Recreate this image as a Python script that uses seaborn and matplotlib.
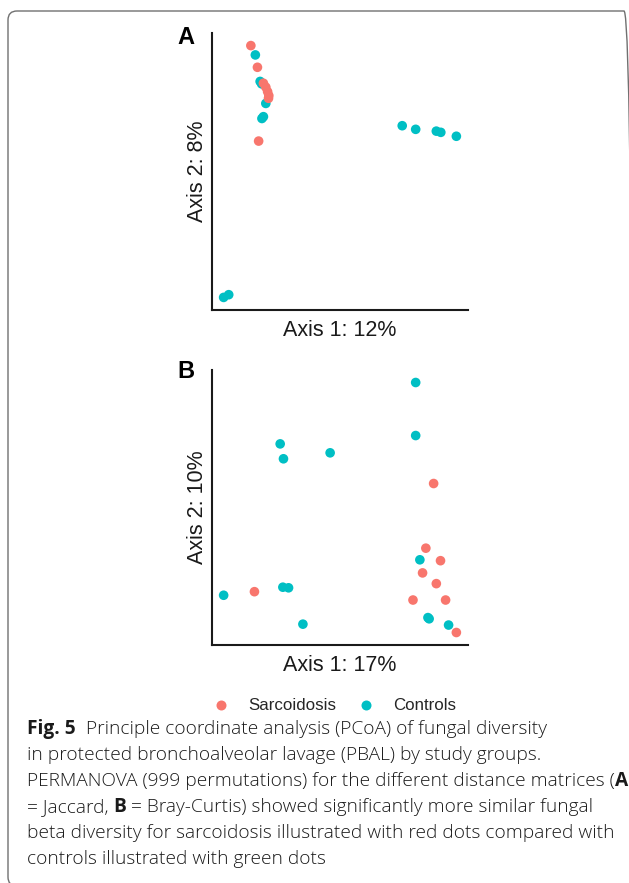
import matplotlib
matplotlib.use("Agg")
import matplotlib.pyplot as plt
from matplotlib.patches import FancyBboxPatch
from matplotlib.transforms import IdentityTransform
from matplotlib.lines import Line2D
import seaborn as sns
import pandas as pd

# ---------------- data ----------------
groups = ["Sarcoidosis", "Controls"]
colors = ["#F8766D", "#00BFC4"]

# Panel A (Jaccard)
a_sarc_x = [-0.298, -0.276, -0.256, -0.248, -0.242, -0.238, -0.239, -0.272]
a_sarc_y = [0.414, 0.342, 0.289, 0.276, 0.261, 0.248, 0.239, 0.097]
a_ctrl_x = [-0.283, -0.267, -0.262, -0.248, -0.256, -0.261, 0.208, 0.253, 0.322, 0.337, 0.389, -0.389, -0.372]
a_ctrl_y = [0.383, 0.295, 0.287, 0.222, 0.178, 0.172, 0.148, 0.136, 0.130, 0.126, 0.113, -0.422, -0.413]

# Panel B (Bray-Curtis)
b_sarc_x = [0.313, 0.287, 0.336, 0.276, 0.322, -0.286, 0.244, 0.353, 0.389]
b_sarc_y = [0.089, -0.128, -0.170, -0.211, -0.247, -0.274, -0.302, -0.302, -0.411]
b_ctrl_x = [0.253, 0.253, -0.200, -0.189, -0.033, 0.267, -0.191, -0.172, -0.389, -0.124, 0.294, 0.298, 0.363]
b_ctrl_y = [0.428, 0.250, 0.222, 0.172, 0.192, -0.167, -0.259, -0.261, -0.286, -0.383, -0.361, -0.365, -0.386]

panel_labels = ["A", "B"]
x_titles = ["Axis 1: 12%", "Axis 1: 17%"]
y_titles = ["Axis 2: 8%", "Axis 2: 10%"]

caption_lines = [
    [("Fig. 5", True), ("  Principle coordinate analysis (PCoA) of fungal diversity", False)],
    [("in protected bronchoalveolar lavage (PBAL) by study groups.", False)],
    [("PERMANOVA (999 permutations) for the different distance matrices (", False), ("A", True)],
    [("= Jaccard, ", False), ("B", True), (" = Bray-Curtis) showed significantly more similar fungal", False)],
    [("beta diversity for sarcoidosis illustrated with red dots compared with", False)],
    [("controls illustrated with green dots", False)],
]

# ---------------- figure ----------------
sns.set_style("white")
plt.rcParams["font.family"] = ["Liberation Sans", "DejaVu Sans"]

W, H = 629, 883
fig = plt.figure(figsize=(W / 100, H / 100), dpi=100)
fig.patch.set_facecolor("white")


def frac_rect(left, top, right, bottom):
    return [left / W, 1 - bottom / H, (right - left) / W, (bottom - top) / H]


def make_df(sx, sy, cx, cy):
    d1 = pd.DataFrame({"x": cx, "y": cy, "group": "Controls"})
    d2 = pd.DataFrame({"x": sx, "y": sy, "group": "Sarcoidosis"})
    return pd.concat([d1, d2], ignore_index=True)


panels = [
    (make_df(a_sarc_x, a_sarc_y, a_ctrl_x, a_ctrl_y), frac_rect(212, 33, 468, 310)),
    (make_df(b_sarc_x, b_sarc_y, b_ctrl_x, b_ctrl_y), frac_rect(212, 370, 468, 645)),
]
label_centers = [(186, 38), (186, 371)]

for i, (df, rect) in enumerate(panels):
    ax = fig.add_axes(rect)
    sns.scatterplot(data=df, x="x", y="y", hue="group", hue_order=groups,
                    palette=colors, s=48, linewidth=0, alpha=1,
                    legend=False, ax=ax)
    xr = df["x"].max() - df["x"].min()
    yr = df["y"].max() - df["y"].min()
    ax.set_xlim(df["x"].min() - 0.05 * xr, df["x"].max() + 0.05 * xr)
    ax.set_ylim(df["y"].min() - 0.05 * yr, df["y"].max() + 0.05 * yr)
    ax.set_xticks([])
    ax.set_yticks([])
    sns.despine(ax=ax)
    for sp in ["left", "bottom"]:
        ax.spines[sp].set_color("#1a1a1a")
        ax.spines[sp].set_linewidth(1.5)
    ax.set_xlabel(x_titles[i], fontsize=15.5, color="#1a1a1a")
    ax.set_ylabel(y_titles[i], fontsize=15.5, color="#1a1a1a")
    ax.xaxis.label.set_va("baseline")
    ax.xaxis.set_label_coords(0.5, -0.093)
    ax.yaxis.label.set_va("baseline")
    ax.yaxis.set_label_coords(-0.035, 0.5)
    cx, cy = label_centers[i]
    fig.text(cx / W, 1 - cy / H, panel_labels[i], fontsize=17, fontweight="bold",
             ha="center", va="center", color="black")

# legend
handles = [Line2D([], [], marker="o", linestyle="none", markersize=7.2,
                  markerfacecolor=c, markeredgewidth=0) for c in colors]
fig.legend(handles, groups, loc="center", bbox_to_anchor=(334 / W, 1 - 706 / H),
           ncol=2, frameon=False, fontsize=12.2, handlelength=1.0,
           handletextpad=1.1, columnspacing=1.25, borderpad=0, borderaxespad=0)

# caption
cap_font = ["Open Sans", "DejaVu Sans"]
cap_size = 13.8
cap_weight = 300
fig.canvas.draw()
renderer = fig.canvas.get_renderer()


def seg_width(text, bold):
    kw = dict(fontsize=cap_size, family=cap_font,
              fontweight="bold" if bold else cap_weight)
    t1 = fig.text(0, 0, "|" + text + "|", **kw)
    t2 = fig.text(0, 0, "||", **kw)
    w = t1.get_window_extent(renderer).width - t2.get_window_extent(renderer).width
    t1.remove()
    t2.remove()
    return w


x0 = 27
base0 = 734
step = 26
for li, parts in enumerate(caption_lines):
    x = x0
    yb = base0 + li * step
    for text, bold in parts:
        fig.text(x / W, 1 - yb / H, text, fontsize=cap_size, family=cap_font,
                 fontweight="bold" if bold else cap_weight, ha="left", va="baseline",
                 color="#1a1a1a")
        x += seg_width(text, bold)

# frame (bottom and right edges fall just outside the picture, as in the reference)
frame = FancyBboxPatch((8, -3), 625, 875, boxstyle="round,pad=0,rounding_size=9",
                       transform=IdentityTransform(), facecolor="none",
                       edgecolor="#707070", linewidth=1.0)
fig.add_artist(frame)

fig.savefig("out.png", dpi=100)
